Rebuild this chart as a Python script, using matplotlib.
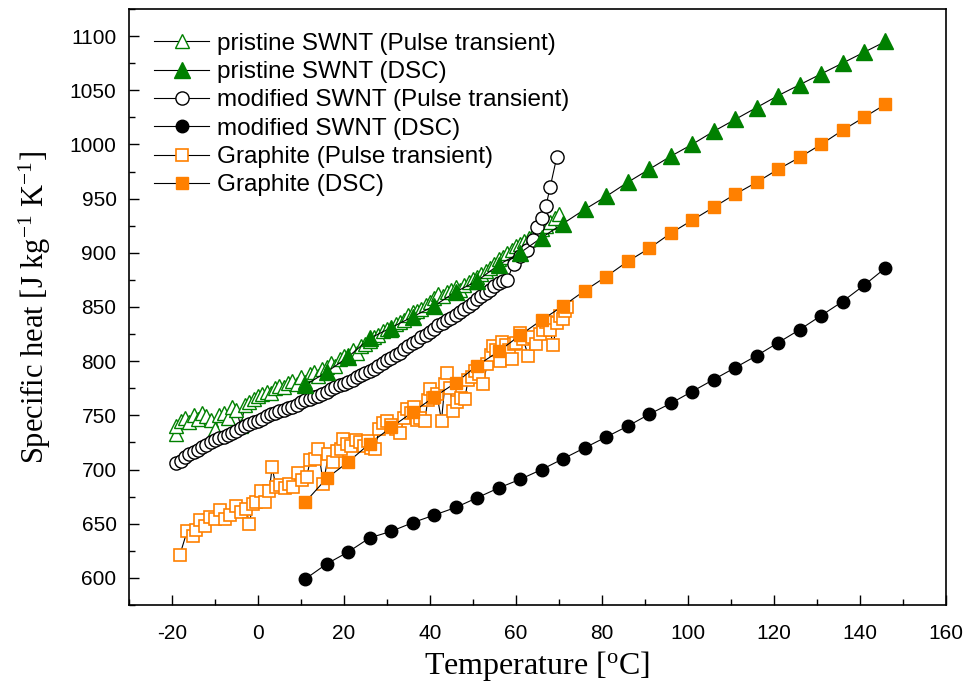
import numpy as np
import matplotlib
matplotlib.use("Agg")
import matplotlib.pyplot as plt
from matplotlib.ticker import MultipleLocator

plt.rcParams['font.family'] = ['Liberation Sans', 'DejaVu Sans']
plt.rcParams['mathtext.fontset'] = 'custom'
plt.rcParams['mathtext.rm'] = 'Liberation Serif'
plt.rcParams['mathtext.it'] = 'Liberation Serif:italic'
plt.rcParams['axes.unicode_minus'] = False

# pristine SWNT, pulse transient
t_pris_pt = [-19, -19, -18, -17, -16, -15, -14, -13, -12, -11, -10, -9, -8, -7, -6, -5, -4, -3, -2, -1,
             0, 1, 2, 3, 4, 5, 6, 7, 8, 9, 10, 11, 12, 13, 14, 15, 16, 17, 18, 19,
             20, 21, 22, 23, 24, 25, 26, 27, 28, 29, 30, 31, 32, 33, 34, 35, 36, 37, 38, 39,
             40, 41, 42, 43, 44, 45, 46, 47, 48, 49, 50, 51, 52, 53, 54, 55, 56, 57, 58, 59,
             60, 61, 62, 63, 64, 65, 66, 67, 68, 69, 70]
cp_pris_pt = [733, 740, 745, 748, 744, 750, 747, 752, 749, 746, 737, 750, 752, 748, 758, 755, 740, 760, 762, 765,
              768, 770, 772, 771, 775, 777, 776, 780, 782, 779, 785, 781, 788, 790, 786, 793, 795, 798, 796, 802,
              805, 806, 810, 808, 814, 816, 819, 822, 824, 828, 830, 829, 834, 836, 838, 843, 845, 846, 848, 852,
              855, 858, 862, 860, 864, 866, 868, 866, 870, 873, 876, 878, 880, 883, 886, 890, 894, 896, 900, 903,
              906, 908, 911, 914, 916, 919, 922, 925, 928, 932, 936]

# pristine SWNT, DSC
t_pris_dsc = [11, 16, 21, 26, 31, 36, 41, 46, 51, 56, 61, 66, 71, 76, 81, 86, 91, 96, 101, 106,
              111, 116, 121, 126, 131, 136, 141, 146]
cp_pris_dsc = [778, 790, 804, 821, 831, 841, 851, 864, 874, 889, 900, 914, 927, 940, 952, 965, 977, 989, 1000, 1012,
               1023, 1034, 1045, 1055, 1065, 1075, 1085, 1095]

# modified SWNT, pulse transient
t_mod_pt = [-19, -18, -17, -16, -15, -14, -13, -12, -11, -10, -9, -8, -7, -6, -5, -4, -3, -2, -1,
            0, 1, 2, 3, 4, 5, 6, 7, 8, 9, 10, 11, 12, 13, 14, 15, 16, 17, 18, 19,
            20, 21, 22, 23, 24, 25, 26, 27, 28, 29, 30, 31, 32, 33, 34, 35, 36, 37, 38, 39,
            40, 41, 42, 43, 44, 45, 46, 47, 48, 49, 50, 51, 52, 53, 54, 55, 56, 57, 58,
            59.5, 61, 62.5, 64, 65, 66, 67, 68, 69.5]
cp_mod_pt = [706, 708, 712, 714, 716, 718, 721, 723, 725, 727, 729, 730, 732, 734, 736, 738, 740, 742, 744,
             745, 747, 749, 751, 752, 754, 755, 757, 758, 760, 762, 764, 765, 767, 768, 770, 772, 774, 776, 778,
             779, 781, 783, 785, 787, 789, 791, 793, 796, 798, 801, 803, 806, 808, 811, 814, 817, 819, 822, 824,
             827, 830, 833, 835, 838, 840, 843, 845, 848, 851, 854, 857, 860, 863, 866, 869, 872, 874, 875,
             890, 897, 903, 912, 924, 932, 943, 961, 988]

# modified SWNT, DSC
t_mod_dsc = [11, 16, 21, 26, 31, 36, 41, 46, 51, 56, 61, 66, 71, 76, 81, 86, 91, 96, 101, 106,
             111, 116, 121, 126, 131, 136, 141, 146]
cp_mod_dsc = [599, 613, 624, 637, 643, 651, 658, 665, 674, 683, 691, 700, 710, 720, 730, 740, 751, 761, 772, 783,
              794, 805, 817, 829, 842, 855, 870, 886]

# graphite, pulse transient
t_gr_pt = [-18.2, -16.5, -15.2, -14.5, -13.5, -12.3, -11.2, -10.1, -8.9, -7.7, -6.5, -5.2, -4.0, -2.8, -2.0,
           -1.2, -0.4, 0.6, 1.6, 2.6, 3.3, 4.2, 5.2, 6.3, 7.2, 8.2, 9.2, 10.2, 11.3, 12.2, 13.3, 14.0,
           15.2, 16.4, 17.5, 18.4, 19.2, 19.8, 20.8, 21.6, 22.7, 23.7, 24.6, 25.5, 26.4, 27.2, 28.2, 29.1,
           30.0, 31.0, 32.0, 33.0, 34.0, 34.6, 35.5, 36.2, 36.9, 37.8, 38.8, 39.5, 40.0, 40.8, 41.6, 42.7,
           43.5, 43.9, 44.7, 45.4, 46.3, 47.2, 48.1, 48.9, 49.8, 50.6, 51.5, 52.4, 53.3, 54.1, 54.7, 55.4,
           56.3, 56.8, 57.6, 58.3, 59.0, 59.6, 60.1, 60.9, 61.7, 62.9, 63.7, 64.8, 65.6, 66.3, 67.1, 67.9,
           68.7, 69.5, 70.3, 71.0, 71.4, 71.8]
cp_gr_pt = [621, 643, 639, 644, 653, 648, 656, 654, 663, 654, 658, 666, 661, 664, 650,
            668, 670, 680, 670, 680, 702, 684, 686, 683, 687, 684, 697, 690, 693, 709, 710, 719,
            687, 714, 707, 717, 719, 728, 724, 722, 727, 725, 722, 726, 720, 719, 737, 743,
            745, 741, 737, 734, 748, 756, 752, 758, 746, 748, 745, 764, 774, 766, 770, 745,
            779, 789, 775, 754, 762, 766, 765, 783, 785, 791, 788, 779, 797, 806, 814, 810,
            800, 818, 815, 810, 802, 816, 817, 826, 820, 805, 822, 816, 825, 829, 836, 829,
            815, 835, 842, 839, 846, 850]

# graphite, DSC
t_gr_dsc = [11, 16, 21, 26, 31, 36, 41, 46, 51, 56, 61, 66, 71, 76, 81, 86, 91, 96, 101, 106,
            111, 116, 121, 126, 131, 136, 141, 146]
cp_gr_dsc = [670, 692, 707, 724, 739, 753, 767, 780, 796, 809, 824, 838, 851, 865, 878, 892, 904, 918, 930, 942,
             954, 965, 977, 988, 1000, 1013, 1025, 1037]

green = '#008000'
orange = '#ff8000'

fig = plt.figure(figsize=(9.63, 6.88), dpi=100)
ax = fig.add_axes([0.134, 0.1206, 0.848, 0.8664])

line_kw = dict(color='black', lw=0.8)

l1, = ax.plot(t_pris_pt, cp_pris_pt, marker='^', ms=10, mfc='white', mec=green, mew=1.0,
              label='pristine SWNT (Pulse transient)', **line_kw)
l3, = ax.plot(t_mod_pt, cp_mod_pt, marker='o', ms=9.5, mfc='white', mec='black', mew=1.0,
              label='modified SWNT (Pulse transient)', **line_kw)
l5, = ax.plot(t_gr_pt, cp_gr_pt, marker='s', ms=8, mfc='white', mec=orange, mew=1.2,
              label='Graphite (Pulse transient)', **line_kw)
l2, = ax.plot(t_pris_dsc, cp_pris_dsc, marker='^', ms=11, mfc=green, mec=green,
              label='pristine SWNT (DSC)', **line_kw)
l4, = ax.plot(t_mod_dsc, cp_mod_dsc, marker='o', ms=9, mfc='black', mec='black',
              label='modified SWNT (DSC)', **line_kw)
l6, = ax.plot(t_gr_dsc, cp_gr_dsc, marker='s', ms=8.5, mfc=orange, mec=orange,
              label='Graphite (DSC)', **line_kw)

ax.set_xlim(-30, 160)
ax.set_ylim(575, 1125)
ax.xaxis.set_major_locator(MultipleLocator(20))
ax.xaxis.set_minor_locator(MultipleLocator(10))
ax.yaxis.set_major_locator(MultipleLocator(50))
ax.yaxis.set_minor_locator(MultipleLocator(25))
ax.tick_params(which='both', direction='in', top=False, right=False, width=1.0, labelsize=15)
ax.tick_params(axis='x', pad=14)
ax.tick_params(axis='y', pad=9)
ax.tick_params(which='major', length=7)
ax.tick_params(which='minor', length=4)
for s in ax.spines.values():
    s.set_linewidth(1.2)

ax.set_xlabel('Temperature [$^{\\mathrm{o}}$C]', fontfamily='Liberation Serif', fontsize=23, labelpad=4)
ax.set_ylabel('Specific heat [J kg$^{\\mathrm{-1}}$ K$^{\\mathrm{-1}}$]', fontfamily='Liberation Serif',
              fontsize=22, labelpad=12)

ax.legend(handles=[l1, l2, l3, l4, l5, l6], loc='upper left', bbox_to_anchor=(0.031, 0.96),
          frameon=False, fontsize=17.5, handlelength=2.25, handletextpad=0.33, labelspacing=0.26,
          borderaxespad=0, borderpad=0)

fig.savefig('out.png', dpi=100)
